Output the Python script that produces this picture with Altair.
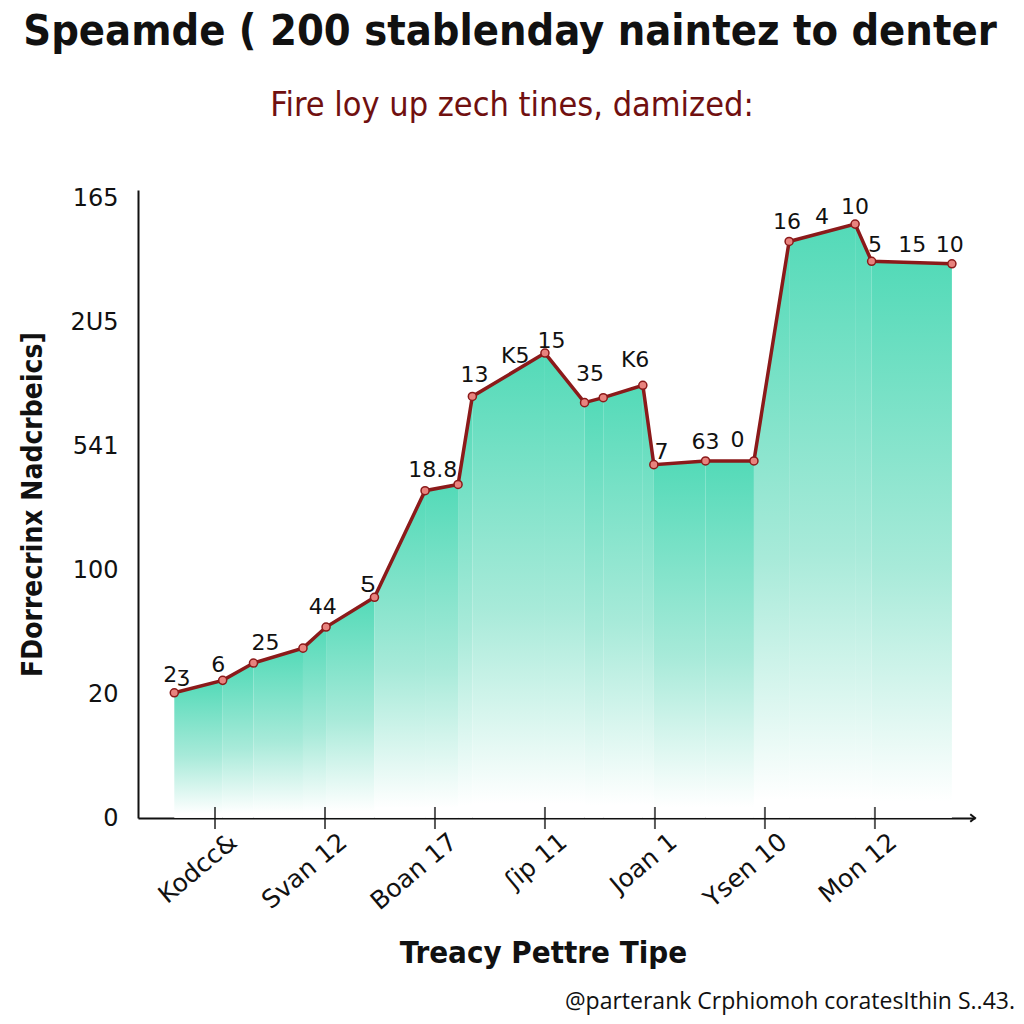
import altair as alt
import pandas as pd

# ---------------- data ----------------
title_text = "Speamde ( 200 stablenday naintez to denter"
subtitle_text = "Fire loy up zech tines, damized:"
x_title = "Treacy Pettre Tipe"
y_title = "FDorrecrinx Nadcrbeics]"
footer_text = "@parterank Crphiomoh coratesIthin S..43."

x_tick_labels = ["Kodcc&", "Svan 12", "Boan 17", "ʃip 11", "Joan 1", "Ysen 10", "Mon 12"]
y_tick_labels = ["0", "20", "100", "541", "2U5", "165"]

# point positions in axis units (x: tick index, y: tick index)
pt_x = [-0.37, 0.07, 0.35, 0.80, 1.01, 1.45, 1.91, 2.21, 2.34, 3.00,
        3.36, 3.53, 3.89, 3.99, 4.46, 4.90, 5.22, 5.82, 5.97, 6.70]
pt_y = [1.01, 1.11, 1.25, 1.37, 1.54, 1.78, 2.64, 2.69, 3.40, 3.75,
        3.35, 3.39, 3.49, 2.85, 2.88, 2.88, 4.65, 4.79, 4.49, 4.47]

lab_text = ["2ʒ", "6", "25", "44", "Ƽ", "18.8", "13", "K5", "15", "35",
            "K6", "7", "63", "0", "16", "4", "10", "5", "15", "10"]
lab_x = [-0.35, 0.03, 0.46, 0.98, 1.39, 1.98, 2.36, 2.73, 3.06, 3.41,
         3.82, 4.06, 4.46, 4.75, 5.20, 5.52, 5.82, 6.00, 6.34, 6.68]
lab_y = [1.15, 1.23, 1.41, 1.70, 1.88, 2.81, 3.57, 3.73, 3.85, 3.58,
         3.69, 2.95, 3.03, 3.05, 4.81, 4.85, 4.93, 4.62, 4.62, 4.62]

# ---------------- tables ----------------
pts = pd.DataFrame({"x": pt_x, "y": pt_y})
seg_rows = []
for i in range(len(pt_x) - 1):
    seg_rows.append({"x": pt_x[i], "y": pt_y[i], "seg": i})
    seg_rows.append({"x": pt_x[i + 1], "y": pt_y[i + 1], "seg": i})
segs = pd.DataFrame(seg_rows)
labs = pd.DataFrame({"x": lab_x, "y": lab_y, "t": lab_text})
ticks = pd.DataFrame({"x": list(range(len(x_tick_labels))), "y": [0] * len(x_tick_labels)})

X_DOM = [-0.70, 6.91]
Y_DOM = [0, 5.065]
W, H = 837, 628
LEFT, TOP = 138, 190

FONT = "DejaVu Sans"
NARROW = "Liberation Sans Narrow, DejaVu Sans Condensed, sans-serif"

x_lab_expr = "[" + ",".join("'" + s + "'" for s in x_tick_labels) + "][datum.value]"
y_lab_expr = "[" + ",".join("'" + s + "'" for s in y_tick_labels) + "][datum.value]"

xs = alt.Scale(domain=X_DOM, nice=False, zero=False)
ys = alt.Scale(domain=Y_DOM, nice=False, zero=False)

x_axis = alt.Axis(values=list(range(len(x_tick_labels))), labelExpr=x_lab_expr,
                  labelAngle=-40, labelAlign="right", labelBaseline="middle",
                  labelFont=FONT, labelFontSize=25, labelColor="#111",
                  labelPadding=20, labelOffset=18, ticks=False, grid=False,
                  domainColor="#111", domainWidth=2,
                  title=x_title, titleFont=NARROW, titleFontSize=31, titleFontWeight="bold",
                  titleColor="#111", titleY=120, titleX=405, titleAlign="center",
                  titleBaseline="top")
y_axis = alt.Axis(values=list(range(len(y_tick_labels))), labelExpr=y_lab_expr,
                  labelFont=FONT, labelFontSize=24, labelColor="#111",
                  labelPadding=20, ticks=False, grid=False,
                  domainColor="#111", domainWidth=2,
                  title=y_title, titleFont=NARROW, titleFontSize=28, titleFontWeight="bold",
                  titleColor="#111", titlePadding=22)

grad = alt.Gradient(
    gradient="linear", x1=0, x2=0, y1=0, y2=1,
    stops=[alt.GradientStop(color="#4ad8b4", offset=0),
           alt.GradientStop(color="#a3e9d7", offset=0.55),
           alt.GradientStop(color="#ffffff", offset=0.97)])

area = alt.Chart(segs).mark_area(color=grad, opacity=0.95).encode(
    x=alt.X("x:Q", scale=xs, axis=x_axis),
    y=alt.Y("y:Q", scale=ys, axis=y_axis, stack=None),
    detail="seg:N")

line = alt.Chart(pts).mark_line(color="#8b1a1a", strokeWidth=3.5).encode(
    x=alt.X("x:Q", scale=xs), y=alt.Y("y:Q", scale=ys))

dots = alt.Chart(pts).mark_point(filled=True, fill="#e8837e", stroke="#8b1a1a",
                                 strokeWidth=1.5, size=65, opacity=1).encode(
    x=alt.X("x:Q", scale=xs), y=alt.Y("y:Q", scale=ys))

text = alt.Chart(labs).mark_text(font=FONT, fontSize=22, color="#111",
                                 baseline="middle", align="center").encode(
    x=alt.X("x:Q", scale=xs), y=alt.Y("y:Q", scale=ys), text="t:N")

tickmarks = alt.Chart(ticks).mark_tick(color="#111", thickness=2, size=22,
                                       orient="vertical").encode(
    x=alt.X("x:Q", scale=xs), y=alt.Y("y:Q", scale=ys))

arrow = alt.Chart(pd.DataFrame({"x": [X_DOM[1]], "y": [0]})).mark_point(
    shape="M-1,-0.8L0,0L-1,0.8", filled=False, stroke="#111", strokeWidth=2,
    size=90, opacity=1).encode(x=alt.X("x:Q", scale=xs), y=alt.Y("y:Q", scale=ys))

title_df = pd.DataFrame({"t": [title_text]})
sub_df = pd.DataFrame({"t": [subtitle_text]})
foot_df = pd.DataFrame({"t": [footer_text]})

title_mark = alt.Chart(title_df).mark_text(
    font=NARROW, fontSize=43, fontWeight="bold", color="#111", align="center",
    baseline="middle").encode(x=alt.value(510 - LEFT), y=alt.value(32 - TOP), text="t:N")

sub_mark = alt.Chart(sub_df).mark_text(
    font=NARROW, fontSize=34, color="#701010", align="center",
    baseline="middle").encode(x=alt.value(512 - LEFT), y=alt.value(106 - TOP), text="t:N")

footer = alt.Chart(foot_df).mark_text(
    font="Open Sans, DejaVu Sans", fontSize=23, color="#111", align="right",
    baseline="middle").encode(x=alt.value(1015 - LEFT), y=alt.value(1002 - TOP), text="t:N")

chart = alt.layer(area, line, dots, text, tickmarks, arrow,
                  title_mark, sub_mark, footer).properties(
    width=W, height=H,
    view=alt.ViewBackground(stroke="transparent", strokeWidth=0, strokeOpacity=0),
    autosize=alt.AutoSizeParams(type="none"),
    padding={"left": LEFT, "top": TOP, "right": 1024 - LEFT - W, "bottom": 1024 - TOP - H},
).configure_view(stroke="transparent", strokeWidth=0, strokeOpacity=0).configure(background="white")

chart.save("out.html", embed_options={"renderer": "svg", "actions": False})
